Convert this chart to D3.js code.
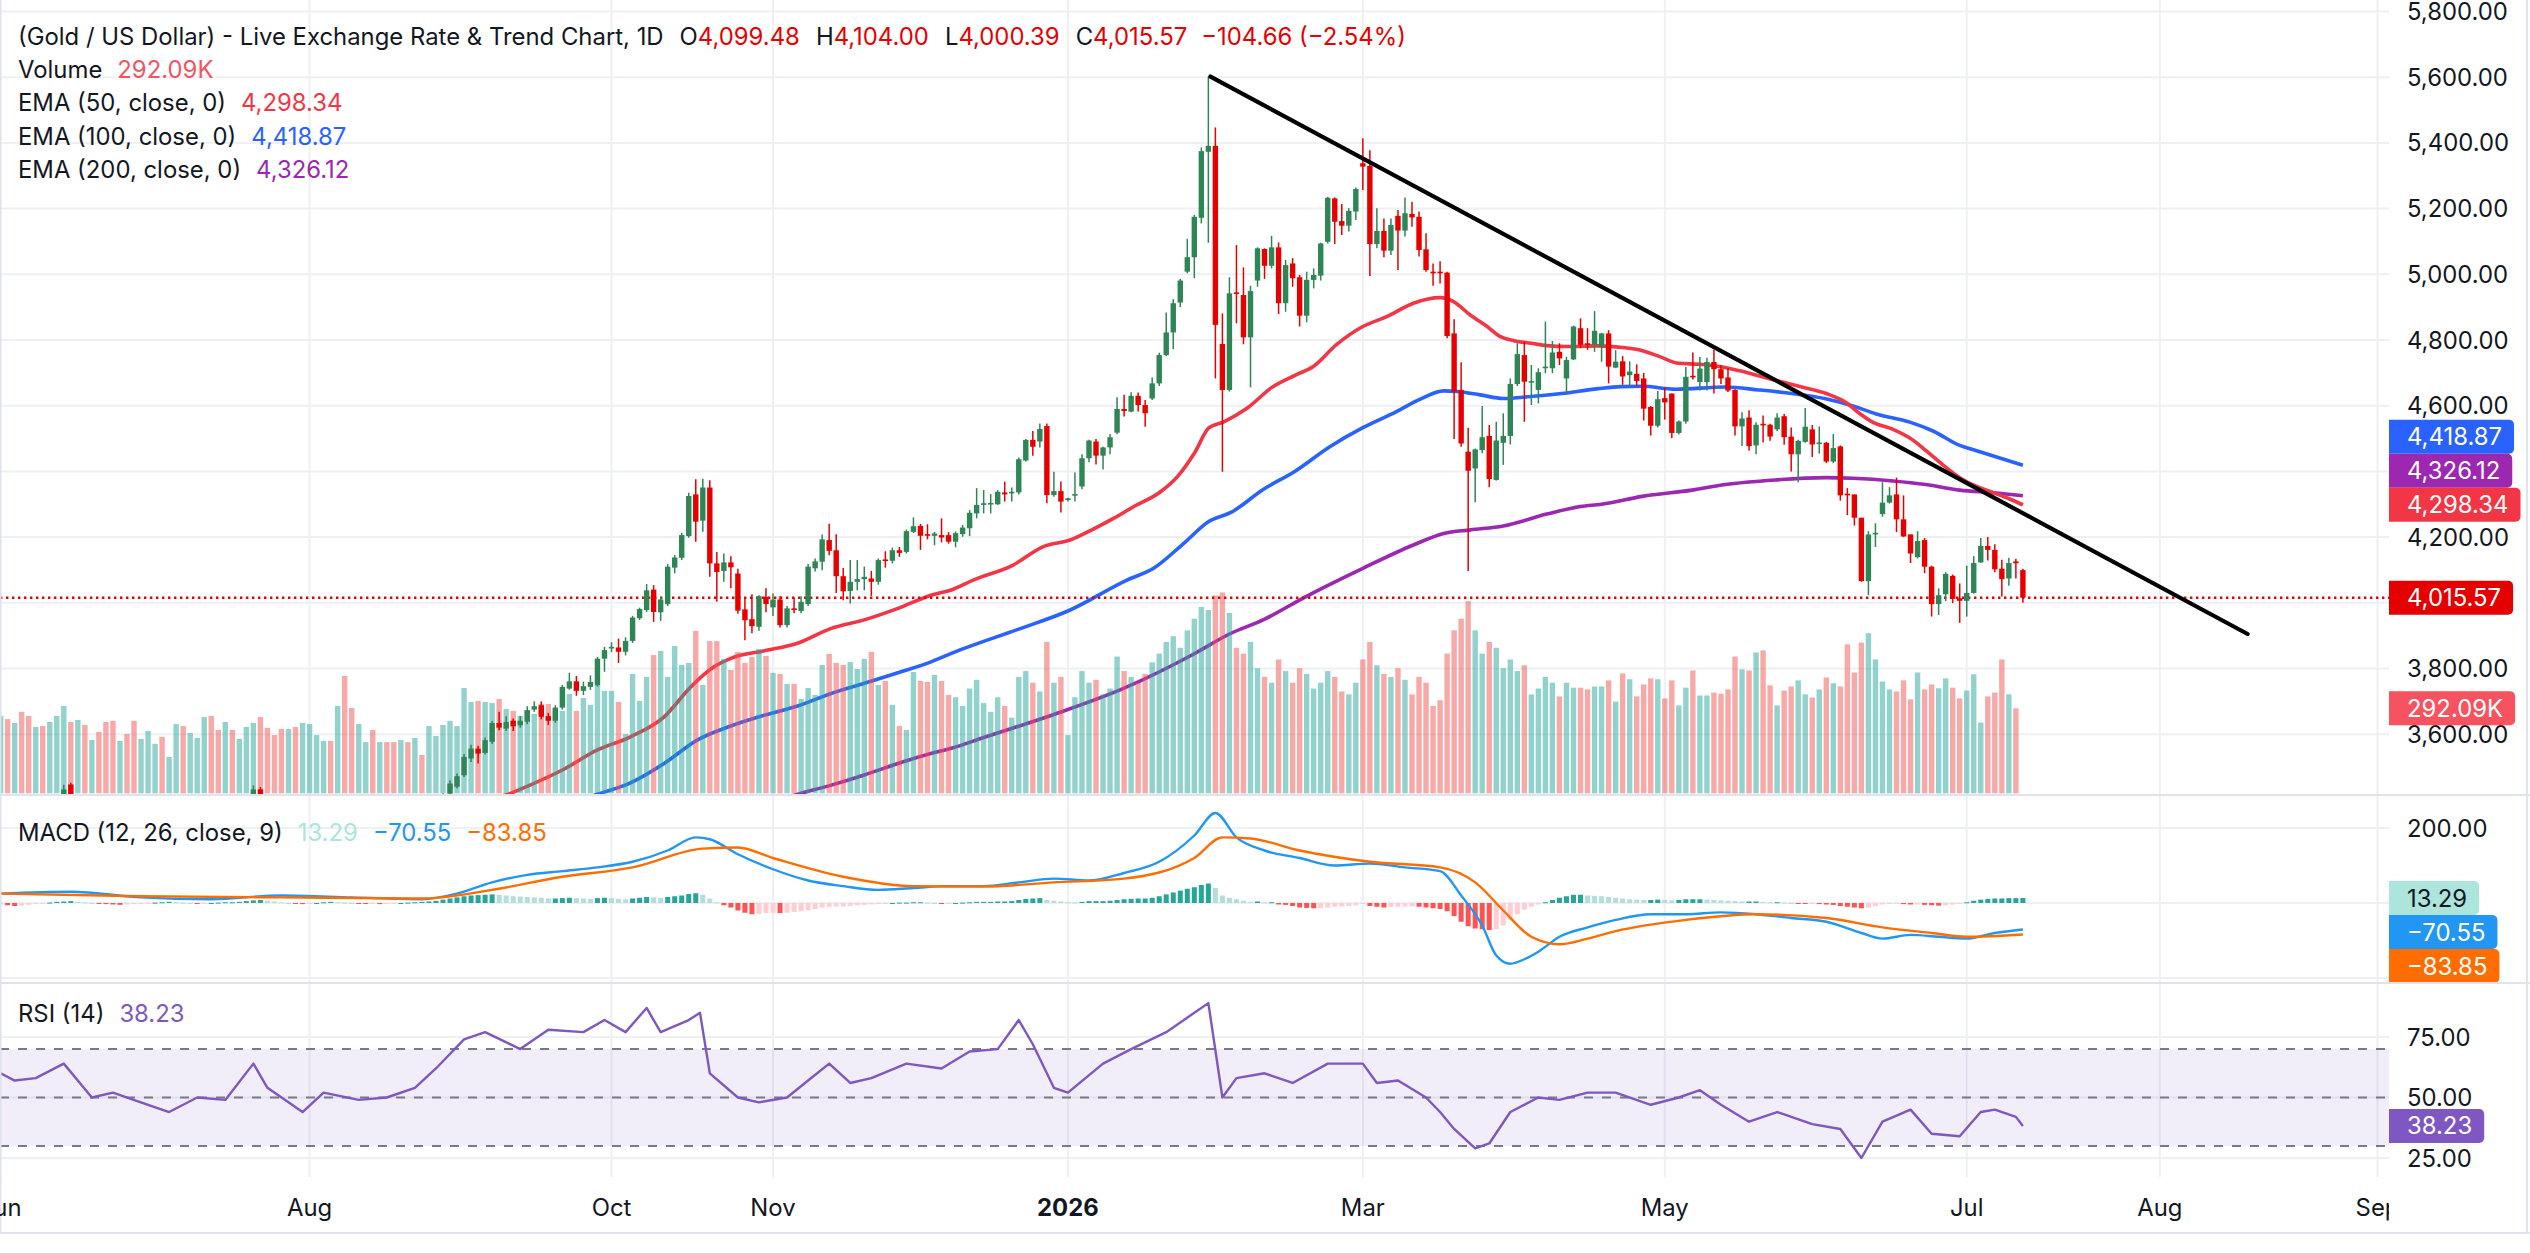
<!DOCTYPE html>
<html><head><meta charset="utf-8">
<script src="https://cdn.jsdelivr.net/npm/d3@7"></script>
<style>
body{margin:0;background:#fff}
svg{display:block}
text{font-family:Inter,"Noto Sans",Roboto,sans-serif}
</style>
</head><body>
<svg id="c" width="2530" height="1253"></svg>
<script>
// ---------------- DATA ----------------
const openP = [3289,3381,3353,3372,3353,3310,3326,3322,3355,3387,3447,3385,3388,3369,3371,3368,3367,3324,3333,3328,
3274,3303,3339,3357,3326,3333,3338,3302,3313,3324,3356,3343,3325,3348,3338,3350,3397,3432,3387,3368,
3337,3314,3326,3275,3290,3362,3373,3380,3368,3398,3385,3342,3348,3356,3336,3338,3332,3316,3346,3338,
3371,3366,3386,3408,3419,3440,3475,3526,3556,3543,3577,3634,3617,3641,3627,3638,3675,3688,3655,3641,
3681,3739,3761,3732,3744,3749,3830,3861,3864,3851,3884,3953,3978,4040,3971,3996,4107,4137,4203,4330,
4250,4351,4120,4097,4123,4089,3980,3950,3927,4018,3986,4010,3932,3983,3975,3996,4105,4125,4191,4160,
4081,4036,4064,4072,4074,4064,4132,4128,4160,4155,4216,4234,4209,4204,4206,4206,4186,4209,4227,4272,
4298,4300,4300,4336,4336,4336,4433,4496,4491,4538,4328,4340,4313,4328,4354,4440,4491,4448,4473,4518,
4590,4582,4630,4602,4622,4668,4754,4823,4914,5008,5052,5172,5373,5391,4788,4648,4945,4937,4808,4981,
5077,5026,5082,4912,5033,4991,4874,4983,4996,5099,5231,5162,5148,5191,5338,5330,5092,5132,5072,5178,
5133,5184,5175,5076,5008,5008,5005,4820,4648,4460,4409,4465,4508,4374,4487,4508,4666,4754,4673,4648,
4717,4714,4764,4683,4741,4836,4790,4785,4780,4820,4716,4735,4693,4697,4683,4596,4539,4623,4637,4517,
4552,4691,4672,4672,4733,4711,4686,4648,4537,4564,4479,4545,4542,4528,4568,4506,4452,4490,4528,4487,
4487,4430,4476,4332,4330,4259,4066,4211,4270,4305,4330,4254,4208,4139,4191,4110,3996,4026,4082,4014,
4006,4030,4123,4173,4161,4104,4074,4126,4099.48];
const highP = [3392,3392,3385,3404,3375,3349,3348,3360,3398,3446,3452,3404,3395,3378,3375,3398,3370,3347,3350,3331,
3309,3358,3365,3358,3345,3345,3349,3317,3336,3368,3375,3366,3369,3352,3362,3402,3444,3439,3394,3373,
3345,3334,3333,3297,3363,3380,3385,3390,3409,3408,3402,3358,3375,3377,3345,3349,3345,3350,3350,3378,
3376,3392,3412,3420,3460,3480,3540,3568,3565,3590,3640,3668,3655,3648,3655,3685,3700,3700,3665,3688,
3750,3787,3777,3760,3779,3835,3866,3880,3891,3895,3960,3985,4057,4054,4018,4118,4145,4213,4335,4376,
4378,4373,4155,4150,4142,4104,4018,4026,4023,4044,4028,4020,3990,4016,4020,4118,4135,4208,4241,4209,
4106,4130,4130,4110,4097,4135,4157,4168,4170,4223,4260,4240,4239,4216,4257,4215,4217,4237,4282,4349,
4343,4331,4343,4369,4351,4442,4499,4523,4546,4546,4399,4369,4320,4397,4452,4496,4499,4475,4514,4626,
4633,4641,4640,4617,4686,4761,4884,4924,4986,5108,5181,5386,5602,5447,4881,4991,5089,5021,4965,5082,
5079,5117,5097,5044,5049,4998,5008,5018,5096,5236,5234,5214,5201,5264,5414,5378,5201,5170,5170,5196,
5234,5221,5191,5125,5033,5040,5008,4863,4732,4533,4470,4599,4541,4551,4577,4683,4790,4795,4724,4714,
4856,4797,4790,4749,4844,4866,4836,4888,4822,4830,4769,4751,4735,4726,4700,4599,4645,4656,4637,4555,
4718,4762,4748,4746,4770,4724,4715,4650,4580,4586,4550,4570,4545,4577,4575,4534,4496,4593,4541,4537,
4490,4514,4479,4349,4330,4259,4218,4242,4367,4352,4381,4327,4208,4218,4197,4113,4044,4093,4086,4059,
4113,4142,4197,4200,4178,4131,4137,4134,4104.00];
const lowP = [3287,3333,3343,3346,3307,3294,3313,3310,3340,3378,3380,3366,3362,3340,3345,3347,3295,3311,3318,3255,
3247,3297,3322,3311,3322,3296,3283,3287,3310,3320,3341,3320,3309,3310,3335,3344,3385,3381,3351,3324,
3301,3308,3268,3268,3281,3346,3353,3358,3365,3380,3340,3331,3345,3332,3323,3323,3314,3311,3322,3321,
3351,3351,3380,3398,3410,3435,3470,3515,3511,3538,3570,3612,3610,3610,3620,3630,3668,3645,3628,3635,
3675,3735,3717,3719,3735,3745,3790,3850,3817,3840,3878,3948,3972,3942,3945,3990,4090,4130,4198,4186,
4216,4079,4003,4064,4044,3967,3886,3907,3915,3971,3960,3925,3925,3968,3968,3990,4095,4099,4145,4030,
4008,3998,4038,4038,4021,4055,4107,4120,4140,4150,4212,4161,4193,4175,4184,4180,4169,4201,4203,4257,
4272,4272,4298,4308,4308,4330,4430,4448,4473,4303,4323,4275,4308,4308,4346,4428,4421,4406,4452,4513,
4567,4580,4582,4536,4617,4660,4751,4772,4900,5003,4988,5155,5096,4683,4399,4643,4851,4787,4656,4962,
4986,5018,4879,4886,4962,4841,4854,4957,4981,5094,5092,5120,5130,5165,5257,4995,5079,5052,5059,5013,
5115,5145,5054,5008,4965,4972,4805,4499,4475,4097,4306,4455,4352,4372,4420,4482,4660,4551,4602,4607,
4699,4699,4724,4633,4739,4775,4770,4764,4734,4668,4714,4664,4657,4661,4555,4509,4534,4558,4501,4512,
4545,4680,4646,4646,4637,4666,4642,4509,4477,4463,4452,4488,4493,4523,4481,4400,4367,4487,4444,4454,
4425,4425,4311,4267,4235,4064,4023,4170,4262,4302,4215,4200,4121,4135,4090,3958,3963,4005,3999,3939,
3958,4028,4121,4129,4093,4019,4052,4074,4000.39];
const closeP = [3381,3353,3372,3353,3310,3326,3322,3355,3387,3432,3385,3388,3369,3371,3368,3367,3324,3333,3328,3274,
3303,3339,3357,3326,3337,3338,3302,3313,3324,3356,3343,3325,3348,3338,3350,3397,3432,3387,3368,3337,
3314,3326,3275,3290,3362,3373,3380,3368,3396,3385,3342,3348,3356,3336,3338,3332,3316,3346,3338,3371,
3366,3386,3408,3417,3450,3472,3531,3556,3541,3582,3634,3620,3637,3624,3641,3673,3685,3653,3641,3681,
3744,3761,3732,3746,3759,3830,3856,3866,3851,3884,3955,3981,4038,3972,4010,4110,4138,4206,4325,4247,
4351,4120,4094,4123,4108,3976,3947,3929,4020,3996,4010,3932,3983,3978,4003,4110,4126,4193,4158,4081,
4035,4064,4072,4079,4064,4130,4128,4160,4152,4218,4233,4204,4204,4211,4199,4186,4212,4229,4274,4298,
4303,4304,4338,4330,4338,4437,4496,4475,4529,4328,4340,4308,4318,4331,4440,4494,4448,4473,4504,4590,
4584,4630,4602,4577,4668,4754,4823,4912,4981,5052,5175,5375,5391,4846,4648,4942,4942,4808,4949,5079,
5026,5082,4912,5028,4988,4874,4983,4998,5094,5233,5160,5148,5193,5260,5328,5092,5132,5072,5150,5133,
5186,5173,5074,5013,5003,5003,4812,4643,4485,4402,4467,4504,4377,4494,4508,4666,4757,4673,4675,4702,
4719,4762,4744,4739,4841,4785,4785,4828,4820,4719,4734,4689,4704,4675,4591,4539,4620,4610,4517,4552,
4688,4686,4713,4733,4711,4683,4646,4537,4561,4477,4542,4542,4506,4564,4504,4452,4493,4536,4482,4488,
4430,4471,4327,4330,4259,4066,4208,4213,4305,4327,4254,4202,4150,4188,4110,3996,4023,4088,4012,4006,
4030,4121,4173,4161,4102,4072,4121,4120.23,4015.57];
// volume in thousands (last bar drawn is index 287)
const volumeK = [266,255,242,280,266,228,231,245,266,300,245,252,235,183,211,245,249,180,204,249,
187,214,170,194,125,238,231,207,190,262,266,218,245,218,187,228,242,262,225,200,
221,221,228,242,238,200,180,180,300,403,293,238,176,218,176,176,176,183,176,190,
132,231,197,235,249,231,362,314,317,314,310,324,290,283,266,286,273,307,307,283,
283,341,283,328,304,372,352,352,314,204,410,317,400,475,489,400,506,441,448,558,
372,523,523,462,424,486,448,468,496,472,414,410,376,376,324,362,338,441,479,448,
441,451,427,462,486,372,386,304,231,218,417,386,383,407,386,338,330,300,360,390,
310,280,330,300,260,400,420,380,350,520,380,400,200,330,420,380,390,340,360,470,
420,400,380,410,450,480,520,540,500,560,600,640,630,680,690,620,500,480,520,430,
400,380,460,420,380,430,410,360,380,420,400,350,340,380,460,520,440,410,400,430,
390,340,400,380,300,320,480,560,600,660,560,480,520,500,430,460,420,440,340,360,
400,380,333,380,363,363,357,367,367,388,315,412,392,333,374,395,392,326,388,302,
363,422,336,336,346,342,357,470,426,422,484,491,371,302,353,367,388,340,329,357,
398,378,367,512,415,518,550,460,384,357,350,388,323,415,357,374,361,395,363,326,
353,409,243,333,346,460,340,292.09];
const ema50Pts = [[0,3260],[20,3300],[40,3330],[55,3355],[65,3385],[72.6,3420],[75.4,3445],[80,3491],[85,3552],[89.7,3592],[94.5,3653],[98.3,3744],[101.6,3805],[104,3831],[108.8,3854],[113.5,3877],[118.3,3922],[123,3948],[127.8,3983],[132.6,4024],[135.4,4039],[138.5,4069],[144.2,4115],[148.5,4171],[152.3,4191],[155.2,4220],[158.5,4257],[161.4,4293],[165.2,4338],[167.6,4384],[170,4455],[172.1,4533],[174.2,4551],[177.5,4592],[181,4655],[184.4,4693],[187,4720],[190.2,4785],[194,4841],[197.4,4871],[201.2,4912],[205,4929],[206.9,4917],[209.3,4876],[211.7,4841],[213.6,4810],[215.5,4798],[218,4790],[220.2,4783],[223,4780],[227.4,4782],[231,4777],[233.3,4770],[236.1,4751],[239,4729],[241.9,4726],[245.2,4718],[248.5,4702],[252.3,4680],[256.1,4659],[260,4637],[262.8,4610],[264.7,4577],[266.6,4550],[269.5,4528],[272.3,4496],[274.2,4463],[276.6,4420],[279,4381],[281.4,4354],[283.8,4335],[286.1,4316],[288,4298.34]];
const ema100Pts = [[0,3150],[40,3230],[60,3290],[75,3350],[85.4,3420],[89.7,3452],[94.5,3511],[99.2,3582],[104,3625],[108.8,3658],[113.5,3686],[118.3,3724],[123,3755],[127.8,3787],[132.6,3821],[135.4,3846],[145,3920],[152,3975],[160.4,4069],[164.2,4105],[168.5,4181],[172.1,4248],[175.3,4276],[179.8,4345],[184.3,4400],[189.3,4475],[194,4533],[198.8,4582],[202.1,4619],[205.5,4645],[207.4,4643],[210.7,4633],[214,4622],[217.9,4628],[222.3,4637],[227.5,4652],[230.7,4658],[233.8,4659],[238.5,4650],[245.6,4657],[250.4,4648],[255.1,4637],[259.9,4621],[263.8,4599],[267.1,4575],[271.9,4550],[275.2,4523],[279,4479],[281.4,4463],[283.8,4447],[288,4418.87]];
const ema200Pts = [[0,3000],[60,3150],[100,3330],[114,3420],[118.3,3445],[123,3476],[127.8,3511],[132.6,3542],[135.4,3557],[140,3590],[150,3660],[160,3740],[170,3845],[175,3905],[179.8,3948],[185.9,4019],[194,4105],[201.2,4176],[205.5,4211],[209.3,4222],[214,4234],[220.2,4270],[225,4293],[228,4300],[233.8,4324],[240.9,4343],[245.6,4360],[252.7,4374],[259.9,4381],[263.8,4379],[269.5,4371],[274.2,4360],[279,4343],[283.8,4335],[288,4326.12]];
const trendPts = [[172.3,5602],[320,3905]];
const macdPts = [[0,25],[10,30],[20,15],[30,10],[40,20],[50,15],[60,10],[65,25],[70,55],[75,75],[80,85],[85,95],[90,110],[95,140],[99,175],[101,170],[105,130],[110,90],[115,60],[120,45],[125,35],[130,40],[135,45],[140,45],[145,55],[150,65],[155,60],[160,80],[165,110],[170,180],[173,240],[176,175],[180,140],[185,120],[190,100],[195,105],[200,95],[205,85],[208,20],[211,-60],[213,-140],[215,-162],[217,-150],[219,-130],[222,-90],[226,-65],[230,-45],[235,-30],[240,-30],[245,-25],[250,-30],[255,-40],[260,-50],[265,-80],[268,-95],[272,-85],[276,-90],[280,-95],[284,-80],[288,-70.55]];
const signalPts = [[0,25],[20,18],[40,15],[60,12],[70,35],[80,70],[90,95],[100,145],[105,148],[110,120],[120,70],[130,45],[140,44],[150,55],[160,65],[170,120],[174,175],[178,172],[185,140],[195,110],[205,95],[210,55],[214,-20],[218,-90],[222,-110],[226,-95],[230,-75],[240,-45],[250,-30],[260,-40],[268,-65],[275,-80],[280,-90],[288,-83.85]];
const histVals = [-4,-6,-8,-7,-5,-3,-2,1,3,4, 5,3,2,0,-2,-3,-4,-5,-4,-3, -2,-1,1,2,3,2,1,0,-1,-1, 0,1,2,2,3,5,7,8,6,4,
2,0,-2,-3,-2,0,2,3,2,1, 0,-1,-2,-2,-3,-2,-1,0,1,2, 3,4,6,9,12,15,18,20,21,22, 23,22,20,18,17,16,15,14,12,12,
13,14,13,12,11,13,14,13,11,10, 12,14,16,15,14,16,18,20,24,26, 22,12,2,-6,-12,-20,-26,-30,-29,-27, -26,-27,-26,-24,-22,-20,-16,-12,-10,-9,
-9,-8,-6,-5,-4,-2,-1,0,1,1, 2,2,1,0,-1,-1,0,1,2,3, 3,3,4,4,5,8,11,12,13,8, 6,4,2,1,3,5,5,5,6,8,
10,11,12,12,14,18,23,28,33,38, 42,48,52,40,20,14,10,6,3,4, 2,2,-4,-5,-8,-12,-13,-14,-14,-12, -10,-9,-8,-6,-2,-8,-10,-12,-11,-10,
-9,-9,-10,-12,-14,-16,-22,-35,-50,-62, -68,-70,-72,-70,-60,-45,-30,-18,-10,-4, 2,8,14,18,22,22,20,19,18,16, 14,12,10,9,8,8,9,8,7,8,
10,10,10,9,8,7,6,5,4,4, 4,3,2,2,1,0,-1,-2,-2,-3, -4,-5,-8,-10,-12,-14,-12,-8,-4,-2, -2,-3,-4,-4,-5,-6,-7,-6,-4,-2,
2,6,9,11,12,12,13,13,13.29];
const rsiPts = [[0,60],[2,57],[5,58],[9,64],[13,50],[16,52],[21,47],[24,44],[28,50],[32,49],[36,64],[38,54],[43,44],[46,52],[51,49],[55,50],[59,54],[62,62],[66,74],[69,77],[74,70],[78,78],[83,77],[86,82],[89,77],[92,87],[94,77],[98,82],[99.6,85],[101,60],[105,50],[108,48],[112,50],[115,57],[118,64],[121,56],[124,58],[129,64],[134,62],[138,69],[142,70],[145,82],[147,72],[150,54],[152,52],[157,64],[161,70],[166,77],[170,85],[172,89],[174,50],[176,58],[180,60],[184,56],[189,64],[194,64],[196,56],[199,57],[203,50],[205,44],[207,37],[210,29],[212,31],[215,44],[219,50],[222,49],[226,52],[230,52],[235,47],[239,50],[242,53],[245,47],[249,40],[253,44],[258,39],[262,37],[265,25],[268,40],[272,45],[275,35],[279,34],[282,44],[284,45],[287,42],[288,38.23]];
const priceTicks = [3600,3800,4000,4200,4400,4600,4800,5000,5200,5400,5600,5800];
const macdTicks = [-200,0,200];
const rsiTicks = [25,50,75];
const rsiLevels = [70,50,30];
const timeLabels = ["Jun","Aug","Oct","Nov","2026","Mar","May","Jul","Aug","Sep"];
const timeIdx = [0,44,87,110,152,194,237,280,307.5,338.5];
const titleText = "(Gold / US Dollar) - Live Exchange Rate & Trend Chart, 1D";

// ---------------- LAYOUT ----------------
const W=2530, plotR=2389, priceBot=794, macdTop=796, macdBot=982, rsiTop=984, rsiBot=1177;
const C_UP="#2E8656", C_DN="#E60000", INK="#131722";
const svg=d3.select("#c");
const x=d3.scaleLinear().domain([0,288]).range([0.6,2022.9]);
const yP=d3.scaleLinear().domain([3600,5800]).range([734.2,11.5]);
const yV=d3.scaleLinear().domain([0,1000]).range([793.3,502.3]);
const yM=d3.scaleLinear().domain([-200,200]).range([978,828]);
const yR=d3.scaleLinear().domain([25,75]).range([1158,1037]);
const f2=d3.format(",.2f");

function fit(str,target,weight){const t=svg.append("text").attr("font-size",24).attr("font-weight",weight||400).text(str);const w=t.node().getComputedTextLength();t.remove();return 24*target/w;}
const fsLeg=fit(titleText,646);
const fsAx=fit("5,800.00",101);

const defs=svg.append("defs");
function clip(id,x0,y0,w,h){defs.append("clipPath").attr("id",id).append("rect").attr("x",x0).attr("y",y0).attr("width",w).attr("height",h);}
clip("cpP",0,0,plotR,priceBot);
clip("cpM",0,macdTop,plotR,macdBot-macdTop);
clip("cpR",0,rsiTop,plotR,rsiBot-rsiTop);
clip("cpMA",0,macdTop,W,macdBot-macdTop);
clip("cpT",0,rsiBot,plotR,60);

const grid=svg.append("g").attr("stroke","#EEF0F4").attr("stroke-width",2);
grid.selectAll("line.v").data(timeIdx).join("line").attr("x1",d=>x(d)).attr("x2",d=>x(d)).attr("y1",0).attr("y2",rsiBot);
grid.selectAll("line.p").data(priceTicks).join("line").attr("x1",0).attr("x2",plotR).attr("y1",d=>yP(d)).attr("y2",d=>yP(d));
grid.selectAll("line.m").data(macdTicks).join("line").attr("x1",0).attr("x2",plotR).attr("y1",d=>yM(d)).attr("y2",d=>yM(d)).attr("clip-path","url(#cpM)");
grid.selectAll("line.r").data(rsiTicks).join("line").attr("x1",0).attr("x2",plotR).attr("y1",d=>yR(d)).attr("y2",d=>yR(d));

// ---------- PRICE PANE ----------
const pg=svg.append("g").attr("clip-path","url(#cpP)");
const lineP=d3.line().x(d=>x(d[0])).y(d=>yP(d[1])).curve(d3.curveMonotoneX);
[[ema200Pts,"#9C27B0"],[ema100Pts,"#2962FF"],[ema50Pts,"#F23645"]].forEach(([pts,col])=>{
  pg.append("path").attr("d",lineP(pts)).attr("fill","none").attr("stroke",col).attr("stroke-width",3.6).attr("stroke-linejoin","round");
});
const volIdx=d3.range(volumeK.length);
pg.selectAll("rect.vol").data(volIdx).join("rect")
  .attr("x",i=>x(i)-2.7).attr("width",5.4)
  .attr("y",i=>yV(volumeK[i])).attr("height",i=>yV(0)-yV(volumeK[i]))
  .attr("fill",i=>closeP[i]>=openP[i]?"rgba(38,166,154,0.5)":"rgba(239,83,80,0.5)");
const lastClose=closeP[closeP.length-1];
pg.append("line").attr("x1",0).attr("x2",plotR).attr("y1",yP(lastClose)).attr("y2",yP(lastClose))
  .attr("stroke",C_DN).attr("stroke-width",2.4).attr("stroke-dasharray","2.4 3.6");
const idx=d3.range(openP.length);
pg.selectAll("line.wick").data(idx).join("line")
  .attr("x1",i=>x(i)).attr("x2",i=>x(i)).attr("y1",i=>yP(highP[i])).attr("y2",i=>yP(lowP[i]))
  .attr("stroke",i=>closeP[i]>=openP[i]?C_UP:C_DN).attr("stroke-width",1.5);
pg.selectAll("rect.body").data(idx).join("rect")
  .attr("x",i=>x(i)-2.7).attr("width",5.4)
  .attr("y",i=>yP(Math.max(openP[i],closeP[i])))
  .attr("height",i=>Math.max(1.6,Math.abs(yP(openP[i])-yP(closeP[i]))))
  .attr("fill",i=>closeP[i]>=openP[i]?C_UP:C_DN);
pg.append("line").attr("x1",x(trendPts[0][0])).attr("y1",yP(trendPts[0][1])).attr("x2",x(trendPts[1][0])).attr("y2",yP(trendPts[1][1]))
  .attr("stroke","#000").attr("stroke-width",4.2).attr("stroke-linecap","round");

// ---------- MACD PANE ----------
const mg=svg.append("g").attr("clip-path","url(#cpM)");
mg.selectAll("rect.h").data(histVals).join("rect")
  .attr("x",(d,i)=>x(i)-2.5).attr("width",5)
  .attr("y",d=>Math.min(yM(d),yM(0))).attr("height",d=>Math.max(1,Math.abs(yM(d)-yM(0))))
  .attr("fill",(d,i)=>{const p=i>0?histVals[i-1]:d; return d>=0?(d>=p?"#26A69A":"#B2DFDB"):(d<p?"#FF5252":"#FFCDD2");});
const lineM=d3.line().x(d=>x(d[0])).y(d=>yM(d[1])).curve(d3.curveMonotoneX);
mg.append("path").attr("d",lineM(macdPts)).attr("fill","none").attr("stroke","#2196F3").attr("stroke-width",2.4);
mg.append("path").attr("d",lineM(signalPts)).attr("fill","none").attr("stroke","#FF6D00").attr("stroke-width",2.4);

// ---------- RSI PANE ----------
const rg=svg.append("g").attr("clip-path","url(#cpR)");
rg.append("rect").attr("x",0).attr("width",plotR).attr("y",yR(70)).attr("height",yR(30)-yR(70)).attr("fill","rgba(126,87,194,0.1)");
rg.selectAll("line.lv").data(rsiLevels).join("line").attr("x1",0).attr("x2",plotR).attr("y1",d=>yR(d)).attr("y2",d=>yR(d))
  .attr("stroke","#787B86").attr("stroke-width",2).attr("stroke-dasharray","9 9");
const lineR=d3.line().x(d=>x(d[0])).y(d=>yR(d[1])).curve(d3.curveLinear);
rg.append("path").attr("d",lineR(rsiPts)).attr("fill","none").attr("stroke","#7E57C2").attr("stroke-width",2.4).attr("stroke-linejoin","round");

// ---------- separators / borders ----------
const sep=svg.append("g").attr("fill","#E0E3EB");
sep.append("rect").attr("x",0).attr("y",priceBot).attr("width",W).attr("height",2);
sep.append("rect").attr("x",0).attr("y",macdBot).attr("width",W).attr("height",2);
sep.append("rect").attr("x",0).attr("y",1232).attr("width",W).attr("height",2);
sep.append("rect").attr("x",2526).attr("y",0).attr("width",2).attr("height",1234);
sep.append("rect").attr("x",0).attr("y",0).attr("width",1.5).attr("height",1234);

// ---------- badges & axes ----------
function badges(list,dir){
  list.sort((a,b)=>a.y-b.y);
  if(dir==="up"){for(let k=list.length-2;k>=0;k--){if(list[k].y>list[k+1].y-34)list[k].y=list[k+1].y-34;}}
  else{for(let k=1;k<list.length;k++){if(list[k].y<list[k-1].y+34)list[k].y=list[k-1].y+34;}}
  return list;
}
function drawBadge(g,b){
  const t=g.append("text").attr("x",2407).attr("y",b.y).attr("dominant-baseline","central").attr("font-size",fsAx).attr("fill",b.fg).text(b.txt);
  const w=t.node().getComputedTextLength()+18+12, h=34, r=5, x0=2389, y0=b.y-17;
  g.insert("path","text").attr("d",`M${x0},${y0}H${x0+w-r}A${r},${r} 0 0 1 ${x0+w},${y0+r}V${y0+h-r}A${r},${r} 0 0 1 ${x0+w-r},${y0+h}H${x0}Z`).attr("fill",b.bg);
}
const e50=ema50Pts[ema50Pts.length-1][1], e100=ema100Pts[ema100Pts.length-1][1], e200=ema200Pts[ema200Pts.length-1][1];
const priceBadges=badges([
  {y:yP(e100),txt:f2(e100),bg:"#2962FF",fg:"#fff"},
  {y:yP(e200),txt:f2(e200),bg:"#9C27B0",fg:"#fff"},
  {y:yP(e50),txt:f2(e50),bg:"#F23645",fg:"#fff"}],"up");
const lastVol=volumeK[volumeK.length-1];
const otherBadges=[{y:yP(lastClose),txt:f2(lastClose),bg:"#E50000",fg:"#fff"},{y:yV(lastVol),txt:d3.format(".2f")(lastVol)+"K",bg:"#F7525F",fg:"#fff"}];
const allPriceB=priceBadges.concat(otherBadges);
const ax=svg.append("g").attr("font-size",fsAx).attr("fill",INK);
ax.selectAll("text.p").data(priceTicks.filter(v=>allPriceB.every(b=>Math.abs(b.y-yP(v))>23))).join("text")
  .attr("x",2407).attr("y",d=>yP(d)).attr("dominant-baseline","central").text(d=>f2(d));
const lastHist=histVals[histVals.length-1], lastMacd=macdPts[macdPts.length-1][1], lastSig=signalPts[signalPts.length-1][1];
const macdB=badges([
  {y:yM(lastHist),txt:d3.format(".2f")(lastHist),bg:"#ACE5DC",fg:INK},
  {y:yM(lastMacd),txt:d3.format(".2f")(lastMacd),bg:"#2196F3",fg:"#fff"},
  {y:yM(lastSig),txt:d3.format(".2f")(lastSig),bg:"#FF6D00",fg:"#fff"}],"down");
ax.selectAll("text.m").data(macdTicks.filter(v=>macdB.every(b=>Math.abs(b.y-yM(v))>23))).join("text")
  .attr("x",2407).attr("y",d=>yM(d)).attr("dominant-baseline","central").text(d=>f2(d));
const lastRsi=rsiPts[rsiPts.length-1][1];
const rsiB=[{y:yR(lastRsi),txt:d3.format(".2f")(lastRsi),bg:"#7E57C2",fg:"#fff"}];
ax.selectAll("text.r").data(rsiTicks.filter(v=>rsiB.every(b=>Math.abs(b.y-yR(v))>23))).join("text")
  .attr("x",2407).attr("y",d=>yR(d)).attr("dominant-baseline","central").text(d=>f2(d));
const bg1=svg.append("g");
allPriceB.forEach(b=>drawBadge(bg1.append("g"),b));
const bg2=svg.append("g").attr("clip-path","url(#cpMA)");
macdB.forEach(b=>drawBadge(bg2.append("g"),b));
rsiB.forEach(b=>drawBadge(svg.append("g"),b));

// time axis
svg.append("g").attr("clip-path","url(#cpT)").selectAll("text").data(timeLabels).join("text")
  .attr("x",(d,i)=>x(timeIdx[i])).attr("y",1207).attr("text-anchor","middle").attr("dominant-baseline","central")
  .attr("font-size",fsAx).attr("fill",INK).attr("font-weight",d=>d==="2026"?700:400).text(d=>d);

// ---------- legends ----------
const lg=svg.append("g").attr("font-size",fsLeg).attr("fill",INK);
const L=openP.length-1;
const t1=lg.append("text").attr("x",18).attr("y",36).attr("dominant-baseline","central");
t1.append("tspan").text(titleText);
[["O",openP[L]],["H",highP[L]],["L",lowP[L]],["C",closeP[L]]].forEach(([k,v])=>{
  t1.append("tspan").attr("dx",16).text(k);
  t1.append("tspan").attr("fill",C_DN).text(f2(v));
});
const chg=closeP[L]-closeP[L-1];
t1.append("tspan").attr("dx",14).attr("fill",C_DN).text(d3.format("+.2f")(chg).replace("+","")+" ("+d3.format(".2f")(chg/closeP[L-1]*100)+"%)");
function legendLine(y,label,val,col){const t=lg.append("text").attr("x",18).attr("y",y).attr("dominant-baseline","central");t.append("tspan").text(label);t.append("tspan").attr("dx",15).attr("fill",col).text(val);return t;}
legendLine(69,"Volume",d3.format(".2f")(lastVol)+"K","#F7525F");
legendLine(102,"EMA (50, close, 0)",f2(e50),"#F23645");
legendLine(136,"EMA (100, close, 0)",f2(e100),"#2962FF");
legendLine(169,"EMA (200, close, 0)",f2(e200),"#9C27B0");
const tm=lg.append("text").attr("x",18).attr("y",832).attr("dominant-baseline","central");
tm.append("tspan").text("MACD (12, 26, close, 9)");
tm.append("tspan").attr("dx",15).attr("fill","#ACE5DC").text(d3.format(".2f")(lastHist));
tm.append("tspan").attr("dx",15).attr("fill","#2196F3").text(d3.format(".2f")(lastMacd));
tm.append("tspan").attr("dx",15).attr("fill","#FF6D00").text(d3.format(".2f")(lastSig));
legendLine(1013,"RSI (14)",d3.format(".2f")(lastRsi),"#7E57C2");
</script>
</body></html>
